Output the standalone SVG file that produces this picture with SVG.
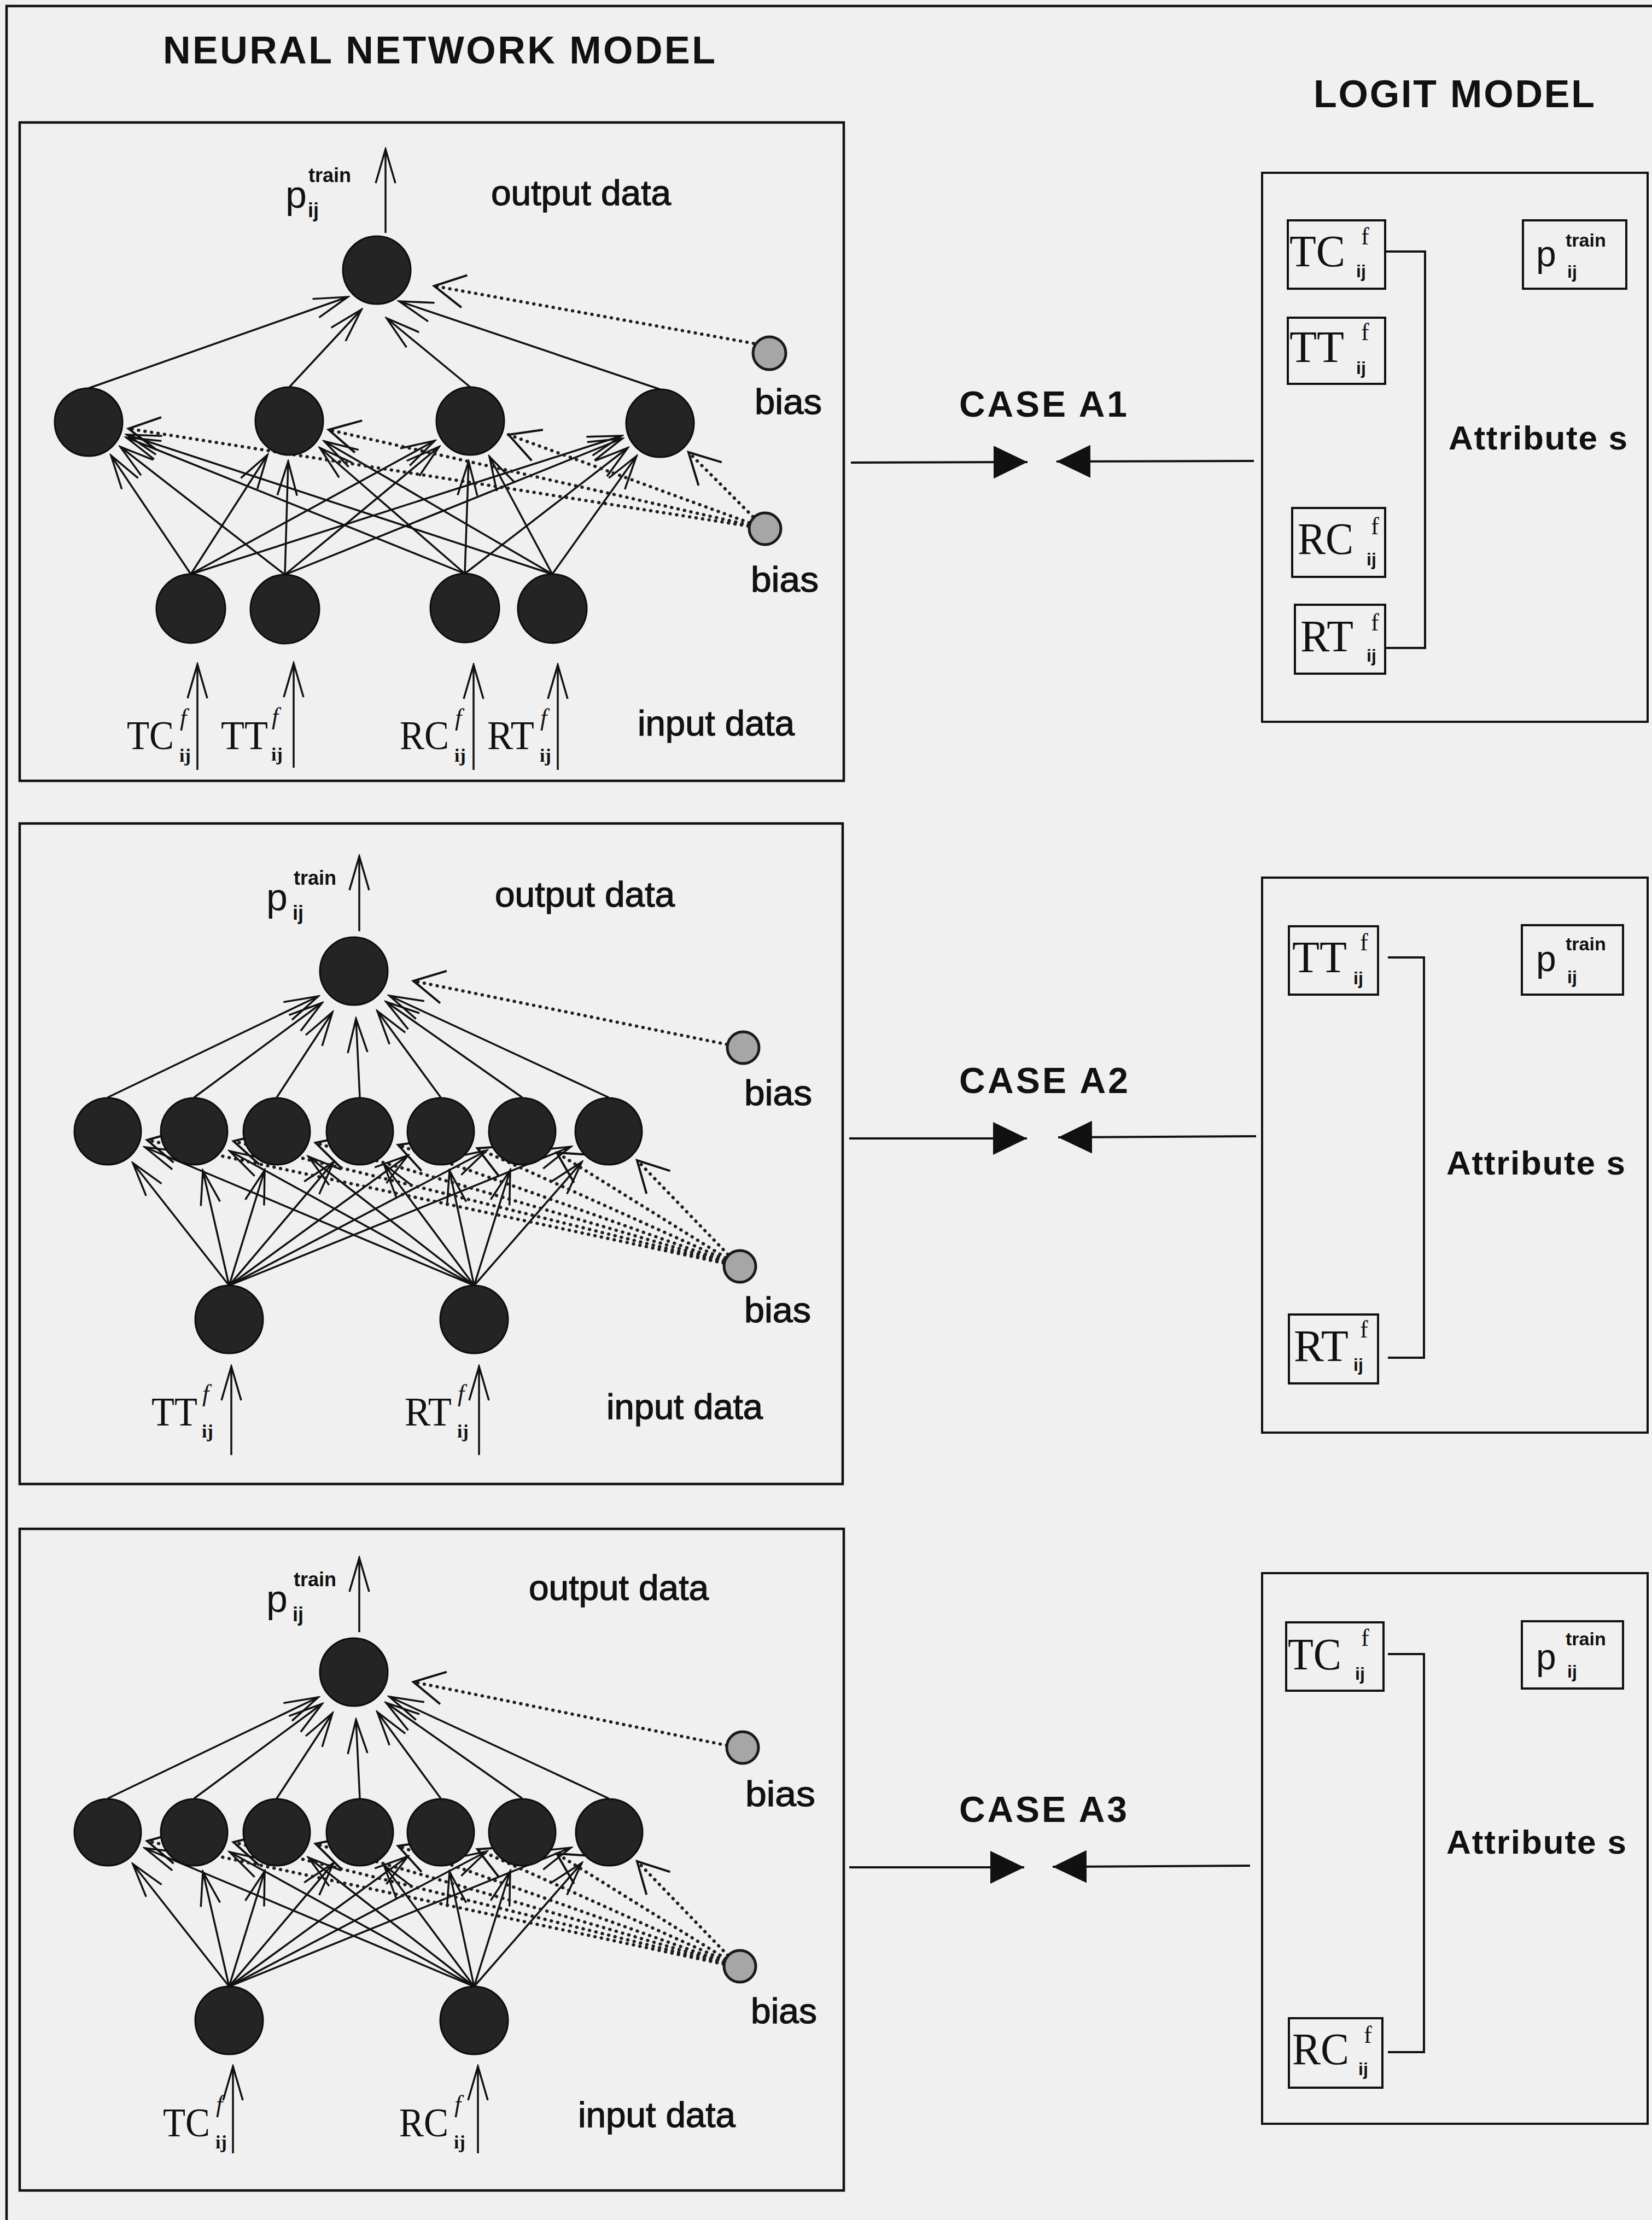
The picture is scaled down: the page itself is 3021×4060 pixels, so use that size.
<svg xmlns="http://www.w3.org/2000/svg" width="3021" height="4060" viewBox="0 0 3021 4060">
<defs>
<style>
.bg{fill:#f0f0f0}
.frame{fill:none;stroke:#111;stroke-width:4.5}
.box{fill:none;stroke:#111;stroke-width:4}
.node{fill:#242424;stroke:#0d0d0d;stroke-width:3}
.bias{fill:#a6a6a6;stroke:#1a1a1a;stroke-width:5}
.c{fill:none;stroke:#111;stroke-width:3.5;marker-end:url(#arr)}
.d{fill:none;stroke:#1e1e1e;stroke-width:6;stroke-dasharray:0.5 11.5;stroke-linecap:round;marker-end:url(#arrb)}
.k{fill:none;stroke:#111;stroke-width:4;marker-end:url(#tri)}
.br{fill:none;stroke:#111;stroke-width:4}
.sans{font-family:"Liberation Sans",Arial,Helvetica,sans-serif;fill:#111}
.serif{font-family:"Liberation Serif","Times New Roman",serif;fill:#111}
.title{font-weight:bold;font-size:70px}
.case{font-weight:bold;font-size:66px}
.att{font-weight:bold;font-size:62px}
.lbl{font-size:64px;stroke:#111;stroke-width:1.3}
</style>
<marker id="arr" markerUnits="userSpaceOnUse" viewBox="0 0 70 44" markerWidth="70" markerHeight="44" refX="66" refY="22" orient="auto">
<path d="M4,4 L66,22 L4,40" fill="none" stroke="#111" stroke-width="3.5"/>
</marker>
<marker id="arrb" markerUnits="userSpaceOnUse" viewBox="0 0 64 68" markerWidth="64" markerHeight="68" refX="60" refY="34" orient="auto">
<path d="M4,4 L60,34 L4,64" fill="none" stroke="#111" stroke-width="4"/>
</marker>
<marker id="tri" markerUnits="userSpaceOnUse" viewBox="0 0 64 64" markerWidth="64" markerHeight="64" refX="62" refY="32" orient="auto">
<path d="M0,2 L62,32 L0,62 Z" fill="#111"/>
</marker>
</defs>

<rect class="bg" x="0" y="0" width="3021" height="4060"/>
<g id="page-frame">
<path class="frame" d="M12,4060 V11 H3021"/>
</g>

<g id="titles">
<text class="sans title" x="298" y="116" textLength="1010" lengthAdjust="spacing">NEURAL NETWORK MODEL</text>
<text class="sans title" x="2402" y="196" textLength="514" lengthAdjust="spacing">LOGIT MODEL</text>
</g>

<g id="nn-panel-1"><rect class="frame" x="36" y="224" width="1507" height="1204"/></g>
<g id="nn-panel-2"><rect class="frame" x="36" y="1506" width="1505" height="1208"/></g>
<g id="nn-panel-3"><rect class="frame" x="36" y="2796" width="1507" height="1210"/></g>

<g id="connectors">
<!-- Panel 1 -->
<path class="c" d="M705,426 L705,273"/>
<path class="c" d="M162,710 L636,543"/>
<path class="c" d="M529,708 L661,566"/>
<path class="c" d="M860,708 L707,582"/>
<path class="c" d="M1207,712 L730,551"/>
<path class="d" d="M1378,628 L794,523"/>
<path class="c" d="M349,1050 L203,833"/>
<path class="c" d="M349,1050 L489,832"/>
<path class="c" d="M349,1050 L795,806"/>
<path class="c" d="M349,1050 L1137,797"/>
<path class="c" d="M521,1051 L220,817"/>
<path class="c" d="M521,1051 L527,844"/>
<path class="c" d="M521,1051 L803,817"/>
<path class="c" d="M521,1051 L1138,802"/>
<path class="c" d="M850,1049 L231,800"/>
<path class="c" d="M850,1049 L585,819"/>
<path class="c" d="M850,1049 L857,844"/>
<path class="c" d="M850,1049 L1148,819"/>
<path class="c" d="M1010,1050 L232,795"/>
<path class="c" d="M1010,1050 L593,807"/>
<path class="c" d="M1010,1050 L895,835"/>
<path class="c" d="M1010,1050 L1164,834"/>
<path class="d" d="M1368,962 L235,784"/>
<path class="d" d="M1369,960 L601,786"/>
<path class="d" d="M1370,956 L930,795"/>
<path class="d" d="M1377,945 L1259,827"/>
<path class="c" d="M361,1408 L361,1215"/>
<path class="c" d="M537,1404 L537,1213"/>
<path class="c" d="M866,1408 L866,1216"/>
<path class="c" d="M1020,1408 L1020,1216"/>

<!-- Panel 2 -->
<path class="c" d="M657,1703 L657,1566"/>
<path class="c" d="M197,2007 L582,1822"/>
<path class="c" d="M355,2007 L589,1834"/>
<path class="c" d="M506,2007 L608,1851"/>
<path class="c" d="M658,2007 L651,1863"/>
<path class="c" d="M806,2007 L690,1849"/>
<path class="c" d="M955,2007 L706,1832"/>
<path class="c" d="M1113,2007 L712,1821"/>
<path class="d" d="M1329,1910 L756,1794"/>
<path class="c" d="M419,2351 L243,2127"/>
<path class="c" d="M419,2351 L371,2141"/>
<path class="c" d="M419,2351 L484,2140"/>
<path class="c" d="M419,2351 L610,2125"/>
<path class="c" d="M419,2351 L746,2113"/>
<path class="c" d="M419,2351 L890,2104"/>
<path class="c" d="M419,2351 L1044,2097"/>
<path class="c" d="M867,2351 L265,2098"/>
<path class="c" d="M867,2351 L420,2105"/>
<path class="c" d="M867,2351 L564,2115"/>
<path class="c" d="M867,2351 L702,2129"/>
<path class="c" d="M867,2351 L822,2141"/>
<path class="c" d="M867,2351 L933,2140"/>
<path class="c" d="M867,2351 L1064,2125"/>
<path class="d" d="M1323,2310 L269,2085"/>
<path class="d" d="M1323,2309 L427,2087"/>
<path class="d" d="M1323,2307 L577,2090"/>
<path class="d" d="M1324,2306 L728,2094"/>
<path class="d" d="M1325,2303 L873,2100"/>
<path class="d" d="M1327,2300 L1018,2108"/>
<path class="d" d="M1331,2294 L1165,2122"/>
<path class="c" d="M423,2661 L423,2499"/>
<path class="c" d="M876,2661 L876,2499"/>

<!-- Panel 3 -->
<path class="c" d="M657,2985 L657,2849"/>
<path class="c" d="M197,3289 L582,3104"/>
<path class="c" d="M355,3289 L589,3116"/>
<path class="c" d="M506,3289 L608,3133"/>
<path class="c" d="M658,3289 L651,3145"/>
<path class="c" d="M806,3289 L690,3131"/>
<path class="c" d="M955,3289 L706,3114"/>
<path class="c" d="M1113,3289 L712,3103"/>
<path class="d" d="M1329,3192 L756,3076"/>
<path class="c" d="M419,3633 L243,3409"/>
<path class="c" d="M419,3633 L371,3423"/>
<path class="c" d="M419,3633 L484,3422"/>
<path class="c" d="M419,3633 L610,3407"/>
<path class="c" d="M419,3633 L746,3395"/>
<path class="c" d="M419,3633 L890,3386"/>
<path class="c" d="M419,3633 L1044,3379"/>
<path class="c" d="M867,3633 L265,3380"/>
<path class="c" d="M867,3633 L420,3387"/>
<path class="c" d="M867,3633 L564,3397"/>
<path class="c" d="M867,3633 L702,3411"/>
<path class="c" d="M867,3633 L822,3423"/>
<path class="c" d="M867,3633 L933,3422"/>
<path class="c" d="M867,3633 L1064,3407"/>
<path class="d" d="M1323,3592 L269,3367"/>
<path class="d" d="M1323,3591 L427,3369"/>
<path class="d" d="M1323,3589 L577,3372"/>
<path class="d" d="M1324,3588 L728,3376"/>
<path class="d" d="M1325,3585 L873,3382"/>
<path class="d" d="M1327,3582 L1018,3390"/>
<path class="d" d="M1331,3576 L1165,3404"/>
<path class="c" d="M426,3938 L426,3779"/>
<path class="c" d="M874,3938 L874,3779"/>

<!-- Case arrows -->
<path class="k" d="M1556,846 L1879,845"/>
<path class="k" d="M2293,843 L1932,844"/>
<path class="k" d="M1553,2082 L1878,2082"/>
<path class="k" d="M2297,2078 L1935,2080"/>
<path class="k" d="M1553,3415 L1873,3415"/>
<path class="k" d="M2286,3412 L1925,3414"/>

<!-- Logit brackets -->
<path class="br" d="M2533,460 H2606 V1185 H2533"/>
<path class="br" d="M2538,1751 H2604 V2483 H2538"/>
<path class="br" d="M2538,3025 H2604 V3753 H2538"/>
</g>

<!-- ================= PANEL 1 NODES ================= -->
<g id="p1-output"><circle class="node" cx="689" cy="494" r="62"/></g>
<g id="p1-h1"><circle class="node" cx="162" cy="772" r="62"/></g>
<g id="p1-h2"><circle class="node" cx="529" cy="770" r="62"/></g>
<g id="p1-h3"><circle class="node" cx="860" cy="770" r="62"/></g>
<g id="p1-h4"><circle class="node" cx="1207" cy="774" r="62"/></g>
<g id="p1-i1"><circle class="node" cx="349" cy="1113" r="63"/></g>
<g id="p1-i2"><circle class="node" cx="521" cy="1114" r="63"/></g>
<g id="p1-i3"><circle class="node" cx="850" cy="1112" r="63"/></g>
<g id="p1-i4"><circle class="node" cx="1010" cy="1113" r="63"/></g>
<g id="p1-bias1"><circle class="bias" cx="1407" cy="646" r="30"/>
<text class="sans lbl" x="1380" y="757" textLength="123" lengthAdjust="spacingAndGlyphs">bias</text></g>
<g id="p1-bias2"><circle class="bias" cx="1399" cy="967" r="29"/>
<text class="sans lbl" x="1373" y="1082" textLength="124" lengthAdjust="spacingAndGlyphs">bias</text></g>
<g id="p1-labels">
<text class="sans" x="522" y="380"><tspan font-size="70">p</tspan><tspan x="564" y="333" font-size="36" font-weight="bold">train</tspan><tspan x="563" y="397" font-size="36" font-weight="bold">ij</tspan></text>
<text class="sans lbl" x="898" y="375" textLength="329" lengthAdjust="spacingAndGlyphs">output data</text>
<text class="sans lbl" x="1166" y="1345" textLength="287" lengthAdjust="spacingAndGlyphs">input data</text>
<text class="serif" x="232" y="1370"><tspan font-size="74" textLength="86" lengthAdjust="spacingAndGlyphs">TC</tspan><tspan x="329" y="1327" font-size="44" font-style="italic">f</tspan><tspan x="328" y="1393" font-size="34" font-weight="bold">ij</tspan></text>
<text class="serif" x="404" y="1370"><tspan font-size="74" textLength="86" lengthAdjust="spacingAndGlyphs">TT</tspan><tspan x="497" y="1325" font-size="44" font-style="italic">f</tspan><tspan x="496" y="1391" font-size="34" font-weight="bold">ij</tspan></text>
<text class="serif" x="731" y="1370"><tspan font-size="74" textLength="90" lengthAdjust="spacingAndGlyphs">RC</tspan><tspan x="832" y="1327" font-size="44" font-style="italic">f</tspan><tspan x="831" y="1393" font-size="34" font-weight="bold">ij</tspan></text>
<text class="serif" x="891" y="1370"><tspan font-size="74" textLength="86" lengthAdjust="spacingAndGlyphs">RT</tspan><tspan x="988" y="1327" font-size="44" font-style="italic">f</tspan><tspan x="987" y="1393" font-size="34" font-weight="bold">ij</tspan></text>
</g>

<!-- ================= PANEL 2 NODES ================= -->
<g id="p2-output"><circle class="node" cx="647" cy="1776" r="62"/></g>
<g id="p2-h1"><circle class="node" cx="197" cy="2069" r="61"/></g>
<g id="p2-h2"><circle class="node" cx="355" cy="2069" r="61"/></g>
<g id="p2-h3"><circle class="node" cx="506" cy="2069" r="61"/></g>
<g id="p2-h4"><circle class="node" cx="658" cy="2069" r="61"/></g>
<g id="p2-h5"><circle class="node" cx="806" cy="2069" r="61"/></g>
<g id="p2-h6"><circle class="node" cx="955" cy="2069" r="61"/></g>
<g id="p2-h7"><circle class="node" cx="1113" cy="2069" r="61"/></g>
<g id="p2-i1"><circle class="node" cx="419" cy="2413" r="62"/></g>
<g id="p2-i2"><circle class="node" cx="867" cy="2413" r="62"/></g>
<g id="p2-bias1"><circle class="bias" cx="1359" cy="1916" r="29"/>
<text class="sans lbl" x="1361" y="2021" textLength="124" lengthAdjust="spacingAndGlyphs">bias</text></g>
<g id="p2-bias2"><circle class="bias" cx="1353" cy="2316" r="29"/>
<text class="sans lbl" x="1361" y="2418" textLength="122" lengthAdjust="spacingAndGlyphs">bias</text></g>
<g id="p2-labels">
<text class="sans" x="487" y="1665"><tspan font-size="70">p</tspan><tspan x="537" y="1618" font-size="36" font-weight="bold">train</tspan><tspan x="535" y="1682" font-size="36" font-weight="bold">ij</tspan></text>
<text class="sans lbl" x="905" y="1658" textLength="329" lengthAdjust="spacingAndGlyphs">output data</text>
<text class="sans lbl" x="1109" y="2595" textLength="286" lengthAdjust="spacingAndGlyphs">input data</text>
<text class="serif" x="277" y="2607"><tspan font-size="74" textLength="84" lengthAdjust="spacingAndGlyphs">TT</tspan><tspan x="370" y="2563" font-size="44" font-style="italic">f</tspan><tspan x="369" y="2629" font-size="34" font-weight="bold">ij</tspan></text>
<text class="serif" x="740" y="2607"><tspan font-size="74" textLength="86" lengthAdjust="spacingAndGlyphs">RT</tspan><tspan x="837" y="2563" font-size="44" font-style="italic">f</tspan><tspan x="836" y="2629" font-size="34" font-weight="bold">ij</tspan></text>
</g>

<!-- ================= PANEL 3 NODES ================= -->
<g id="p3-output"><circle class="node" cx="647" cy="3058" r="62"/></g>
<g id="p3-h1"><circle class="node" cx="197" cy="3351" r="61"/></g>
<g id="p3-h2"><circle class="node" cx="355" cy="3351" r="61"/></g>
<g id="p3-h3"><circle class="node" cx="506" cy="3351" r="61"/></g>
<g id="p3-h4"><circle class="node" cx="658" cy="3351" r="61"/></g>
<g id="p3-h5"><circle class="node" cx="806" cy="3351" r="61"/></g>
<g id="p3-h6"><circle class="node" cx="955" cy="3351" r="61"/></g>
<g id="p3-h7"><circle class="node" cx="1114" cy="3351" r="61"/></g>
<g id="p3-i1"><circle class="node" cx="419" cy="3695" r="62"/></g>
<g id="p3-i2"><circle class="node" cx="867" cy="3695" r="62"/></g>
<g id="p3-bias1"><circle class="bias" cx="1358" cy="3196" r="29"/>
<text class="sans lbl" x="1363" y="3303" textLength="128" lengthAdjust="spacingAndGlyphs">bias</text></g>
<g id="p3-bias2"><circle class="bias" cx="1353" cy="3596" r="29"/>
<text class="sans lbl" x="1373" y="3700" textLength="121" lengthAdjust="spacingAndGlyphs">bias</text></g>
<g id="p3-labels">
<text class="sans" x="487" y="2948"><tspan font-size="70">p</tspan><tspan x="537" y="2901" font-size="36" font-weight="bold">train</tspan><tspan x="535" y="2965" font-size="36" font-weight="bold">ij</tspan></text>
<text class="sans lbl" x="967" y="2926" textLength="329" lengthAdjust="spacingAndGlyphs">output data</text>
<text class="sans lbl" x="1057" y="3890" textLength="288" lengthAdjust="spacingAndGlyphs">input data</text>
<text class="serif" x="298" y="3907"><tspan font-size="74" textLength="86" lengthAdjust="spacingAndGlyphs">TC</tspan><tspan x="395" y="3863" font-size="44" font-style="italic">f</tspan><tspan x="394" y="3929" font-size="34" font-weight="bold">ij</tspan></text>
<text class="serif" x="730" y="3907"><tspan font-size="74" textLength="90" lengthAdjust="spacingAndGlyphs">RC</tspan><tspan x="831" y="3863" font-size="44" font-style="italic">f</tspan><tspan x="830" y="3929" font-size="34" font-weight="bold">ij</tspan></text>
</g>

<!-- ================= CASE LABELS ================= -->
<g id="case-a1"><text class="sans case" x="1754" y="762" textLength="307" lengthAdjust="spacing">CASE A1</text></g>
<g id="case-a2"><text class="sans case" x="1754" y="1999" textLength="309" lengthAdjust="spacing">CASE A2</text></g>
<g id="case-a3"><text class="sans case" x="1754" y="3332" textLength="307" lengthAdjust="spacing">CASE A3</text></g>

<!-- ================= LOGIT MODEL 1 ================= -->
<g id="logit-1">
<rect class="box" x="2308" y="316" width="705" height="1004"/>
<text class="sans att" x="2649" y="822" textLength="327" lengthAdjust="spacing">Attribute s</text>
</g>
<g id="l1-tc"><rect class="box" x="2355" y="403" width="178" height="125"/>
<text class="serif" x="2358" y="487"><tspan font-size="82" textLength="102" lengthAdjust="spacingAndGlyphs">TC</tspan><tspan x="2489" y="447" font-size="44">f</tspan><tspan x="2480" y="507" font-family="Liberation Sans,Arial,sans-serif" font-size="32" font-weight="bold">ij</tspan></text></g>
<g id="l1-tt"><rect class="box" x="2355" y="581" width="178" height="121"/>
<text class="serif" x="2358" y="662"><tspan font-size="82" textLength="100" lengthAdjust="spacingAndGlyphs">TT</tspan><tspan x="2489" y="622" font-size="44">f</tspan><tspan x="2480" y="684" font-family="Liberation Sans,Arial,sans-serif" font-size="32" font-weight="bold">ij</tspan></text></g>
<g id="l1-rc"><rect class="box" x="2363" y="929" width="170" height="126"/>
<text class="serif" x="2373" y="1013"><tspan font-size="82" textLength="102" lengthAdjust="spacingAndGlyphs">RC</tspan><tspan x="2507" y="977" font-size="44">f</tspan><tspan x="2499" y="1034" font-family="Liberation Sans,Arial,sans-serif" font-size="32" font-weight="bold">ij</tspan></text></g>
<g id="l1-rt"><rect class="box" x="2368" y="1106" width="165" height="126"/>
<text class="serif" x="2378" y="1191"><tspan font-size="82" textLength="97" lengthAdjust="spacingAndGlyphs">RT</tspan><tspan x="2507" y="1153" font-size="44">f</tspan><tspan x="2499" y="1210" font-family="Liberation Sans,Arial,sans-serif" font-size="32" font-weight="bold">ij</tspan></text></g>
<g id="l1-p"><rect class="box" x="2785" y="403" width="189" height="125"/>
<text class="sans" x="2809" y="487"><tspan font-size="66">p</tspan><tspan x="2863" y="451" font-size="34" font-weight="bold">train</tspan><tspan x="2866" y="508" font-size="32" font-weight="bold">ij</tspan></text></g>

<!-- ================= LOGIT MODEL 2 ================= -->
<g id="logit-2">
<rect class="box" x="2308" y="1605" width="705" height="1015"/>
<text class="sans att" x="2645" y="2148" textLength="327" lengthAdjust="spacing">Attribute s</text>
</g>
<g id="l2-tt"><rect class="box" x="2357" y="1694" width="163" height="125"/>
<text class="serif" x="2363" y="1778"><tspan font-size="82" textLength="100" lengthAdjust="spacingAndGlyphs">TT</tspan><tspan x="2487" y="1738" font-size="44">f</tspan><tspan x="2475" y="1800" font-family="Liberation Sans,Arial,sans-serif" font-size="32" font-weight="bold">ij</tspan></text></g>
<g id="l2-rt"><rect class="box" x="2357" y="2404" width="163" height="126"/>
<text class="serif" x="2366" y="2489"><tspan font-size="82" textLength="100" lengthAdjust="spacingAndGlyphs">RT</tspan><tspan x="2487" y="2446" font-size="44">f</tspan><tspan x="2475" y="2507" font-family="Liberation Sans,Arial,sans-serif" font-size="32" font-weight="bold">ij</tspan></text></g>
<g id="l2-p"><rect class="box" x="2783" y="1692" width="185" height="127"/>
<text class="sans" x="2809" y="1776"><tspan font-size="66">p</tspan><tspan x="2863" y="1738" font-size="34" font-weight="bold">train</tspan><tspan x="2866" y="1798" font-size="32" font-weight="bold">ij</tspan></text></g>

<!-- ================= LOGIT MODEL 3 ================= -->
<g id="logit-3">
<rect class="box" x="2308" y="2877" width="705" height="1007"/>
<text class="sans att" x="2645" y="3390" textLength="329" lengthAdjust="spacing">Attribute s</text>
</g>
<g id="l3-tc"><rect class="box" x="2352" y="2967" width="178" height="125"/>
<text class="serif" x="2355" y="3053"><tspan font-size="82" textLength="98" lengthAdjust="spacingAndGlyphs">TC</tspan><tspan x="2489" y="3010" font-size="44">f</tspan><tspan x="2478" y="3072" font-family="Liberation Sans,Arial,sans-serif" font-size="32" font-weight="bold">ij</tspan></text></g>
<g id="l3-rc"><rect class="box" x="2357" y="3691" width="171" height="127"/>
<text class="serif" x="2363" y="3775"><tspan font-size="82" textLength="104" lengthAdjust="spacingAndGlyphs">RC</tspan><tspan x="2494" y="3736" font-size="44">f</tspan><tspan x="2484" y="3795" font-family="Liberation Sans,Arial,sans-serif" font-size="32" font-weight="bold">ij</tspan></text></g>
<g id="l3-p"><rect class="box" x="2783" y="2965" width="185" height="123"/>
<text class="sans" x="2809" y="3053"><tspan font-size="66">p</tspan><tspan x="2863" y="3009" font-size="34" font-weight="bold">train</tspan><tspan x="2866" y="3068" font-size="32" font-weight="bold">ij</tspan></text></g>
</svg>
